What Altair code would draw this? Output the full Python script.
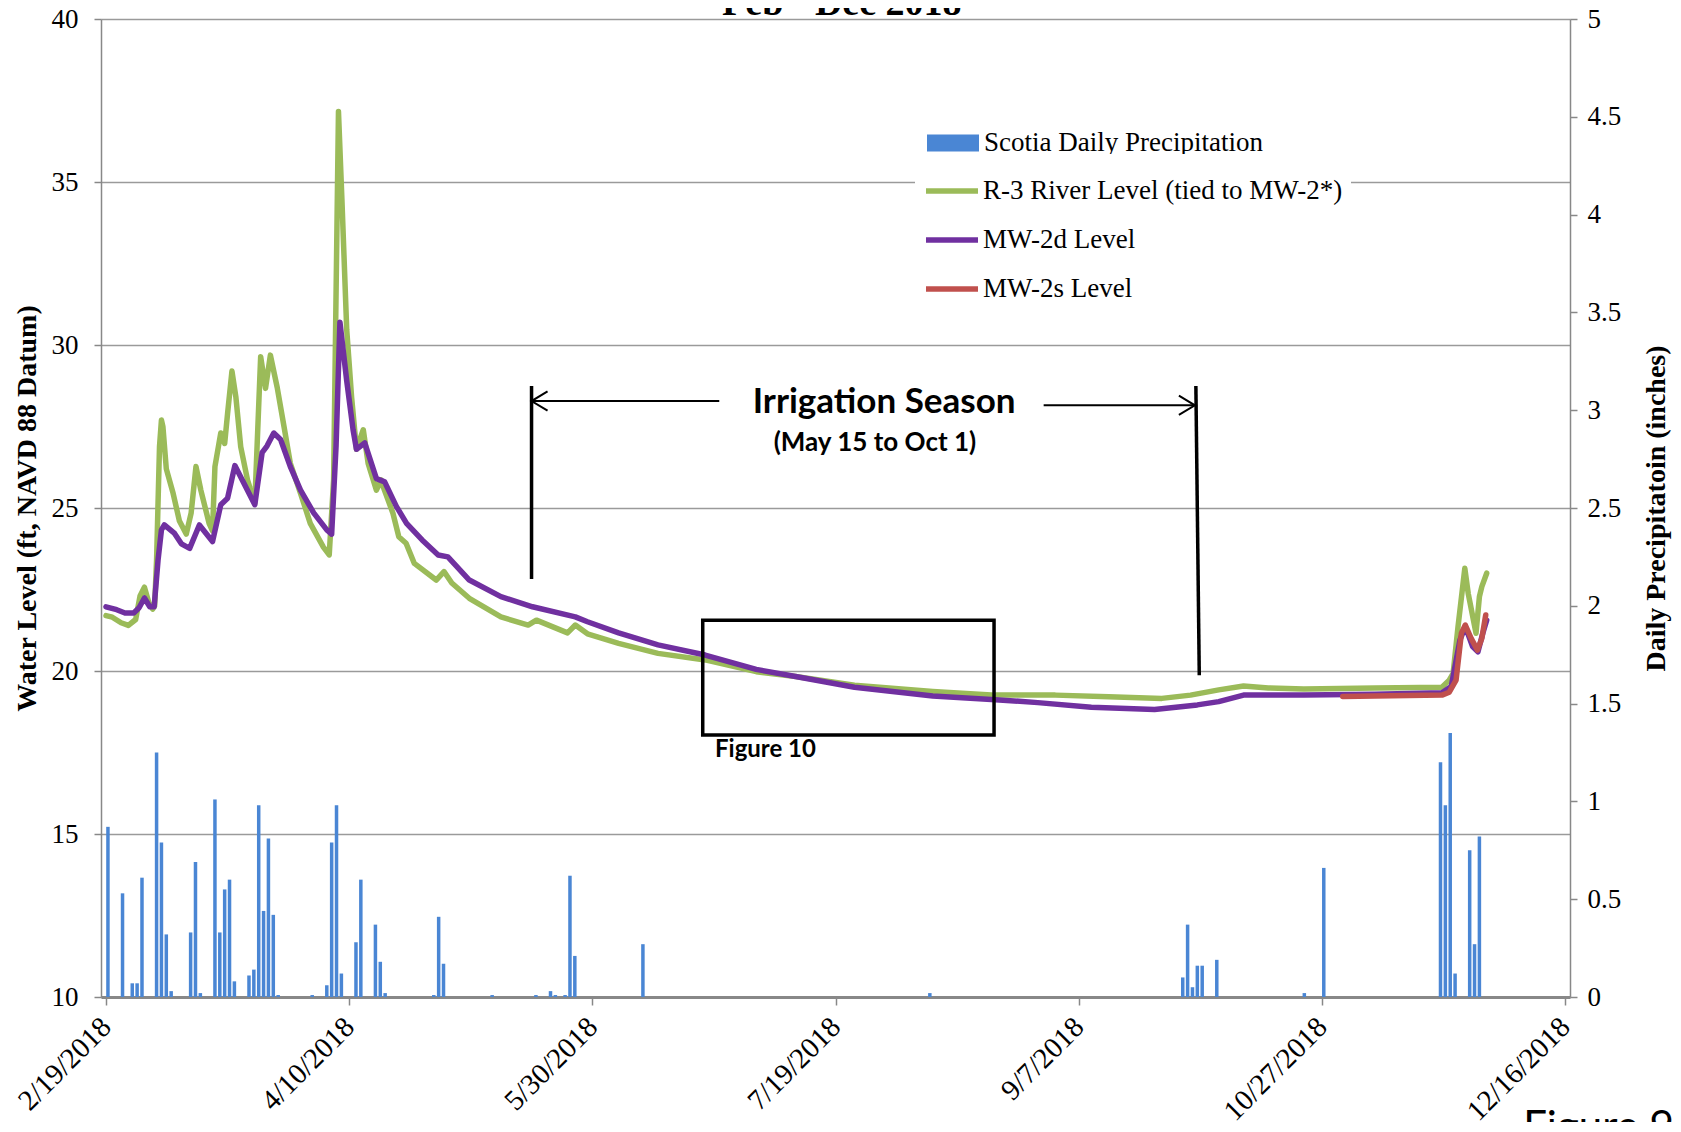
import altair as alt
import pandas as pd

SERIF = "Liberation Serif"
SANS = "Lato"
BASE = pd.Timestamp("2018-02-19")


def to_date(d):
    return (BASE + pd.Timedelta(days=d)).strftime("%Y-%m-%dT%H:%M:%S")


# ---------------- data (days after 2/19/2018) ----------------
precip_days = [0, 3, 5, 6, 7, 10, 11, 12, 13, 17, 18, 19, 22, 23, 24, 25, 26, 29, 30, 31,
               32, 33, 34, 35, 42, 45, 46, 47, 48, 51, 52, 55, 56, 57, 67, 68, 69, 79, 88, 91,
               92, 94, 95, 96, 110, 169, 221, 222, 223, 224, 225, 228, 246, 250, 274, 275, 276,
               277, 280, 281, 282]
precip_in = [0.87, 0.53, 0.07, 0.07, 0.61, 1.25, 0.79, 0.32, 0.03, 0.33, 0.69, 0.02, 1.01, 0.33,
             0.55, 0.60, 0.08, 0.11, 0.14, 0.98, 0.44, 0.81, 0.42, 0.01, 0.01, 0.06, 0.79, 0.98,
             0.12, 0.28, 0.60, 0.37, 0.18, 0.02, 0.01, 0.41, 0.17, 0.01, 0.01, 0.03, 0.01, 0.01,
             0.62, 0.21, 0.27, 0.02, 0.10, 0.37, 0.05, 0.16, 0.16, 0.19, 0.02, 0.66, 1.20, 0.98,
             1.35, 0.12, 0.75, 0.27, 0.82]

green_days = [0, 1.3, 3.1, 4.6, 6.1, 7.0, 7.9, 8.8, 9.6, 10.0, 10.4, 11.0, 11.4, 11.7, 12.4, 13.8,
              15.1, 16.5, 17.5, 18.5, 19.5, 21.2, 21.9, 22.4, 23.6, 24.4, 25.0, 25.9, 26.7, 27.7,
              29.1, 30.6, 31.8, 32.8, 33.8, 35.2, 36.6, 37.9, 40.0, 42.0, 44.7, 45.9, 46.8, 47.8,
              48.5, 49.5, 50.5, 51.5, 52.9, 53.9, 55.6, 56.6, 57.0, 59.0, 60.2, 61.7, 63.4, 67.9,
              69.5, 71.1, 74.7, 81.2, 86.8, 88.5, 94.9, 96.5, 99.0, 105.4, 113.5, 123.2, 133.7,
              141.8, 153.9, 170.0, 182.9, 195.2, 206.2, 217.1, 223.0, 228.8, 233.9, 239.0, 246.3,
              260.9, 274.7, 276.2, 277.0, 278.0, 279.4, 280.1, 281.7, 282.4, 282.9, 283.9]
green_lvl = [21.7, 21.65, 21.48, 21.4, 21.58, 22.3, 22.57, 22.1, 21.9, 22.0, 23.4, 26.88, 27.7,
             27.5, 26.2, 25.45, 24.6, 24.2, 24.84, 26.27, 25.55, 24.53, 24.3, 26.27, 27.3, 26.98,
             27.9, 29.2, 28.41, 26.88, 25.86, 25.15, 29.64, 28.67, 29.69, 28.7, 27.5, 26.37, 25.45,
             24.53, 23.8, 23.56, 25.86, 37.16, 34.5, 30.46, 28.4, 26.8, 27.4, 26.37, 25.55, 25.86,
             25.65, 24.84, 24.12, 23.92, 23.3, 22.79, 23.05, 22.7, 22.23, 21.66, 21.41, 21.56,
             21.17, 21.41, 21.14, 20.85, 20.54, 20.34, 19.98, 19.83, 19.56, 19.37, 19.26, 19.26,
             19.21, 19.16, 19.26, 19.42, 19.54, 19.48, 19.45, 19.48, 19.5, 19.72, 19.93, 21.36,
             23.15, 22.38, 21.16, 22.28, 22.59, 23.0]

purple_days = [0, 2.2, 3.9, 5.7, 6.8, 7.9, 9.0, 9.9, 10.7, 11.4, 12.0, 14.1, 15.5, 17.2, 19.2,
               21.9, 23.6, 25.0, 26.5, 30.6, 32.1, 33.1, 34.5, 35.9, 37.9, 40.0, 42.7, 45.4, 46.4,
               47.3, 48.1, 49.5, 50.8, 51.5, 53.2, 55.6, 57.3, 59.7, 61.8, 65.0, 68.3, 70.3, 74.7,
               81.2, 87.7, 96.5, 99.0, 105.4, 113.5, 123.2, 133.7, 141.8, 153.9, 170.0, 182.9,
               191.6, 202.6, 215.6, 224.4, 228.8, 233.9, 246.3, 260.9, 274.7, 276.6, 278.4, 279.5,
               281.0, 282.1, 283.1, 283.9]
purple_lvl = [21.97, 21.88, 21.78, 21.78, 21.94, 22.24, 21.97, 21.97, 23.4, 24.33, 24.48, 24.22,
              23.9, 23.76, 24.48, 23.97, 25.1, 25.3, 26.3, 25.1, 26.7, 26.9, 27.3, 27.1, 26.27,
              25.55, 24.85, 24.33, 24.2, 26.88, 30.7, 28.9, 27.4, 26.8, 27.0, 25.9, 25.8, 25.05,
              24.53, 24.02, 23.56, 23.5, 22.79, 22.28, 21.97, 21.66, 21.51, 21.17, 20.8, 20.49,
              20.05, 19.83, 19.5, 19.23, 19.12, 19.03, 18.89, 18.82, 18.96, 19.06, 19.26, 19.26,
              19.29, 19.33, 19.52, 20.95, 21.36, 20.75, 20.59, 21.16, 21.56]

red_days = [254.3, 260.9, 274.7, 276.2, 277.6, 278.7, 279.5, 280.7, 282.0, 282.9, 283.7]
red_lvl = [19.22, 19.23, 19.26, 19.35, 19.72, 21.16, 21.41, 21.0, 20.64, 21.0, 21.72]

series_names = ["R-3 River Level (tied to MW-2*)", "MW-2d Level", "MW-2s Level"]
series_colors = ["#9bbb59", "#7030a0", "#c0504d"]
precip_name = "Scotia Daily Precipitation"
precip_color = "#4a86d4"

tick_dates = [(2018, 2, 19), (2018, 4, 10), (2018, 5, 30), (2018, 7, 19), (2018, 9, 7),
              (2018, 10, 27), (2018, 12, 16)]
left_ticks = [10, 15, 20, 25, 30, 35, 40]
right_ticks = [0, 0.5, 1, 1.5, 2, 2.5, 3, 3.5, 4, 4.5, 5]

# annotations: (day start, day end, level start, level end, stroke width)
rule_x = [87.5, 224.1, 87.5, 192.8]
rule_x2 = [87.5, 224.8, 126.1, 223.9]
rule_y = [28.74, 28.74, 28.28, 28.15]
rule_y2 = [22.82, 19.87, 28.28, 28.15]
rule_w = [3.5, 3.5, 2, 2]

box_x, box_x2, box_y, box_y2 = 122.7, 182.6, 21.56, 18.04

# ---------------- frames ----------------
precip_df = pd.DataFrame({
    "date": [to_date(d + 0.4) for d in precip_days],
    "precip": precip_in,
    "series": precip_name,
})


def line_df(days, lvls, name):
    return pd.DataFrame({"date": [to_date(d) for d in days], "level": lvls, "series": name})


green_df = line_df(green_days, green_lvl, series_names[0])
purple_df = line_df(purple_days, purple_lvl, series_names[1])
red_df = line_df(red_days, red_lvl, series_names[2])

rules_df = pd.DataFrame({
    "date": [to_date(d) for d in rule_x],
    "date2": [to_date(d) for d in rule_x2],
    "level": rule_y, "level2": rule_y2, "w": rule_w,
})
box_df = pd.DataFrame({"date": [to_date(box_x)], "date2": [to_date(box_x2)],
                       "level": [box_y], "level2": [box_y2]})
arrow_left_df = pd.DataFrame({"date": [to_date(87.5)], "level": [28.28]})
arrow_right_df = pd.DataFrame({"date": [to_date(223.9)], "level": [28.15]})

sans_text_df = pd.DataFrame({
    "date": [to_date(160.0), to_date(158.1), to_date(135.6)],
    "level": [28.25, 27.0, 17.58],
    "text": ["Irrigation Season", "(May 15 to Oct 1)", "Figure 10"],
    "fs": [35, 26, 24],
})
title_df = pd.DataFrame({"date": [to_date(151.3)], "level": [40.12], "text": ["Feb - Dec 2018"]})
fig9_df = pd.DataFrame({"date": [to_date(291.4)], "level": [6.6], "text": ["Figure 9"]})

# ---------------- scales / axes ----------------
xscale = alt.Scale(domain=[alt.DateTime(year=2018, month=2, date=19),
                           alt.DateTime(year=2018, month=12, date=16)], nice=False)
xaxis = alt.Axis(values=[alt.DateTime(year=y, month=m, date=d) for y, m, d in tick_dates],
                 format="%-m/%-d/%Y", labelAngle=315, labelAlign="right",
                 labelBaseline="middle", labelFont=SERIF, labelFontSize=29,
                 labelColor="black", labelPadding=17, tickSize=8, tickColor="#888888",
                 tickWidth=1.5, domainColor="#888888", domainWidth=3, grid=False, title=None,
                 labelOverlap=False, labelFlush=False, labelBound=False)
lscale = alt.Scale(domain=[10, 40], nice=False, zero=False)
laxis = alt.Axis(values=left_ticks, format="d", labelFont=SERIF, labelFontSize=27,
                 labelColor="black", labelPadding=16, tickSize=7, tickColor="#888888",
                 tickWidth=1.5, domainColor="#888888", domainWidth=1.5, grid=True,
                 gridColor="#9a9a9a", gridWidth=1.5, title="Water Level (ft, NAVD 88 Datum)",
                 titleFont=SERIF, titleFontWeight="bold", titleFontSize=28, titleColor="black",
                 titleX=-74, titleY=489, titleAngle=270, titleAlign="center",
                 titleBaseline="middle", orient="left", labelFlush=False)
rscale = alt.Scale(domain=[0, 5], nice=False)
raxis = alt.Axis(values=right_ticks, format="~g", labelFont=SERIF, labelFontSize=27,
                 labelColor="black", labelPadding=10, tickSize=7, tickColor="#888888",
                 tickWidth=1.5, domainColor="#888888", domainWidth=1.5, grid=False,
                 title="Daily Precipitatoin (inches)", titleFont=SERIF, titleFontWeight="bold",
                 titleFontSize=28, titleColor="black", titleX=86, titleY=489, titleAngle=270,
                 titleAlign="center", titleBaseline="middle", orient="right", labelFlush=False)

leg_fill = alt.Legend(orient="none", legendX=805, legendY=77, title=None,
                      fillColor="white", padding=21, symbolType="M-1,-0.33H1V0.33H-1Z",
                      symbolSize=2704, symbolStrokeWidth=0, labelFont=SERIF, labelFontSize=27,
                      labelColor="black", labelOffset=5, labelLimit=0)
leg_stroke = alt.Legend(orient="none", legendX=814, legendY=135, title=None,
                        fillColor="white", padding=8, symbolType="stroke", symbolSize=2704,
                        symbolStrokeWidth=5.5, labelFont=SERIF, labelFontSize=27,
                        labelColor="black", labelOffset=2, labelLimit=0, rowPadding=7)

stroke_scale = alt.Scale(domain=series_names, range=series_colors)


def X():
    return alt.X("date:T", scale=xscale, axis=xaxis)


def Y():
    return alt.Y("level:Q", scale=lscale, axis=laxis)


# ---------------- layers ----------------
bars = alt.Chart(precip_df).mark_bar(size=3.5).encode(
    x=X(),
    y=alt.Y("precip:Q", scale=rscale, axis=raxis),
    fill=alt.Fill("series:N", scale=alt.Scale(domain=[precip_name], range=[precip_color]),
                  legend=leg_fill),
)


def line_layer(df):
    return alt.Chart(df).mark_line(strokeWidth=5.5, strokeJoin="round", strokeCap="round").encode(
        x=X(), y=Y(),
        stroke=alt.Stroke("series:N", scale=stroke_scale, legend=leg_stroke),
    )


rules = alt.Chart(rules_df).mark_rule(color="black").encode(
    x=X(), x2="date2:T", y=Y(), y2="level2:Q",
    strokeWidth=alt.StrokeWidth("w:Q", scale=None),
)
box = alt.Chart(box_df).mark_rect(fill=None, stroke="black", strokeWidth=3.5).encode(
    x=X(), x2="date2:T", y=Y(), y2="level2:Q",
)
arrow_l = alt.Chart(arrow_left_df).mark_point(
    shape="M1,-0.6L0,0L1,0.6", size=1024, filled=False, color="black", strokeWidth=2,
    opacity=1).encode(x=X(), y=Y())
arrow_r = alt.Chart(arrow_right_df).mark_point(
    shape="M-1,-0.6L0,0L-1,0.6", size=1024, filled=False, color="black", strokeWidth=2,
    opacity=1).encode(x=X(), y=Y())
sans_text = alt.Chart(sans_text_df).mark_text(
    font=SANS, fontWeight="bold", color="black", align="center", baseline="middle").encode(
    x=X(), y=Y(), text="text:N", size=alt.Size("fs:Q", scale=None))
title_text = alt.Chart(title_df).mark_text(
    font=SERIF, fontWeight="bold", fontSize=38, color="black", align="center",
    baseline="alphabetic").encode(x=X(), y=Y(), text="text:N")
fig9_text = alt.Chart(fig9_df).mark_text(
    font=SANS, fontSize=42, color="black", align="left", baseline="top").encode(
    x=X(), y=Y(), text="text:N")

level_layers = alt.layer(
    line_layer(green_df), line_layer(purple_df), line_layer(red_df),
    rules, box, arrow_l, arrow_r, sans_text, title_text, fig9_text,
)

chart = alt.layer(bars, level_layers).resolve_scale(y="independent").properties(
    width=1469, height=978,
    padding={"left": 93, "top": 11, "right": 103, "bottom": 125},
    autosize=alt.AutoSizeParams(type="none"),
    background="white",
).configure_view(stroke=None)

chart.save("out.html", embed_options={"renderer": "svg", "actions": False})
